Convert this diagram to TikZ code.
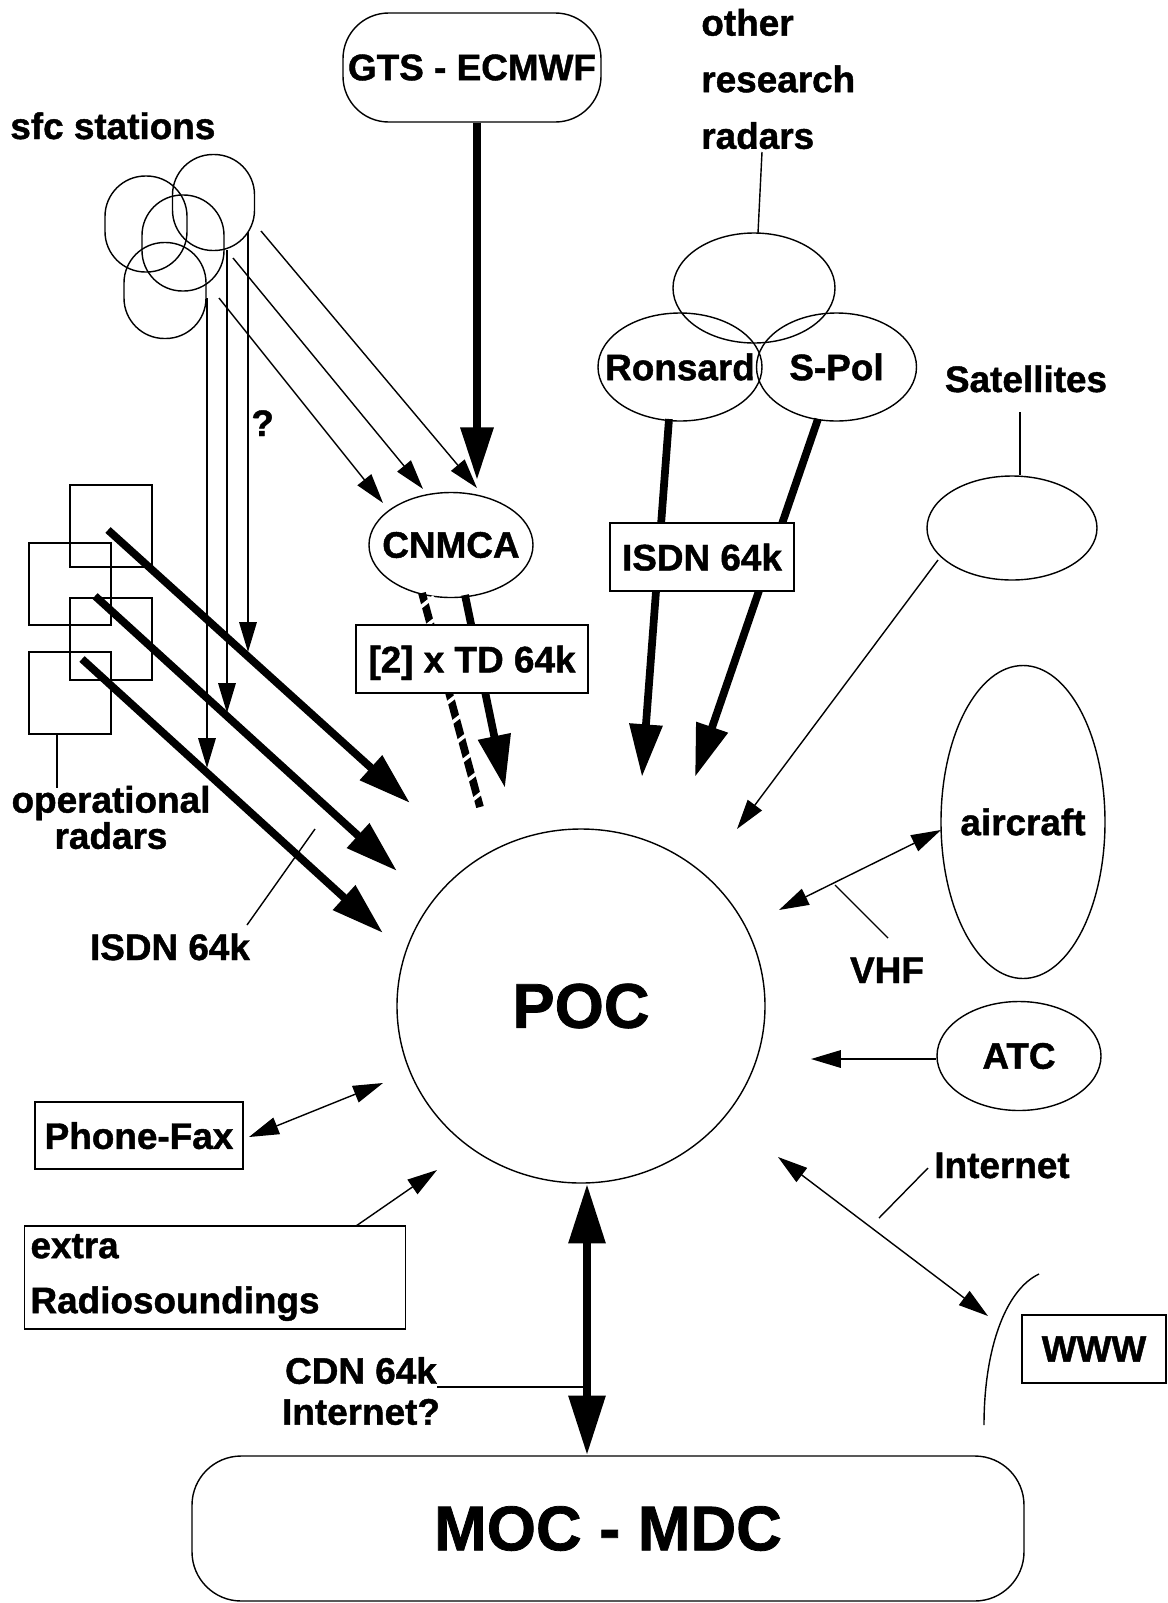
\documentclass[tikz,border=0pt]{standalone}
\usepackage{fontspec}
\setmainfont{Liberation Sans}[BoldFeatures={FakeBold=1.2}]
\usetikzlibrary{arrows.meta,shapes.geometric,calc}
\newdimen\pxu
\pxu=0.02cm
\begin{document}
\begin{tikzpicture}[x=0.02cm,y=-0.02cm,
  thinln/.style={line width=0.8pt},
  tarrow/.style={thinln, arrows={-Triangle[length=17pt,width=10pt]}},
  tdarrow/.style={thinln, arrows={Triangle[length=17pt,width=10pt]-Triangle[length=17pt,width=10pt]}},
  fatln/.style={line width=4.4pt},
  farrow/.style={fatln, arrows={-Triangle[length=30pt,width=18pt]}},
  fdarrow/.style={line width=5pt, arrows={Triangle[length=34pt,width=20pt]-Triangle[length=34pt,width=20pt]}},
  lbl/.style={font=\bfseries\fontsize{21}{25}\selectfont, inner sep=0pt},
  bigfont/.style={font=\bfseries\fontsize{36}{40}\selectfont},
  boxn/.style={draw, thinln, rectangle, fill=white, lbl, text depth=0pt},
  ell/.style={draw, thinln, ellipse, lbl, inner sep=-12pt},
  stn/.style={draw, thinln, rectangle, rounded corners=23pt, minimum width=82*\pxu, minimum height=96*\pxu, inner sep=0pt},
  radar/.style={draw, thinln, rectangle, minimum width=82*\pxu, minimum height=82*\pxu, inner sep=0pt},
]
\useasboundingbox (0,0) rectangle (1167,1603);

% ---------- nodes ----------
\node[lbl, anchor=base west] (sfc) at (10,139) {sfc stations};
\node[stn] (s1) at (146,224) {};
\node[stn] (s2) at (213.5,202.5) {};
\node[stn] (s3) at (183,243) {};
\node[stn] (s4) at (165,290.5) {};
\node[lbl, anchor=base west] (qm) at (251,436) {?};

\node[draw, thinln, rectangle, rounded corners=26pt, lbl, minimum width=258*\pxu, minimum height=109*\pxu] (gts) at (472,67.5) {GTS - ECMWF};

\node[lbl, anchor=west, align=left, font=\bfseries\fontsize{21}{32.2}\selectfont] (orr) at (701,79) {other\\research\\radars};
\node[ell, minimum width=162*\pxu, minimum height=110*\pxu] (oth) at (754,288) {};
\node[ell, minimum width=164*\pxu, minimum height=108*\pxu] (ron) at (680,367) {Ronsard};
\node[ell, minimum width=160*\pxu, minimum height=108*\pxu] (spol) at (836.5,367) {S-Pol};

\node[lbl, anchor=base] (satl) at (1026,392) {Satellites};
\node[ell, minimum width=170*\pxu, minimum height=104*\pxu] (sat) at (1012,528) {};

\node[ell, minimum width=164*\pxu, minimum height=105*\pxu] (cnmca) at (451,545) {CNMCA};
\node[ell, minimum width=164*\pxu, minimum height=313*\pxu] (air) at (1023,822) {aircraft};
\node[ell, minimum width=164*\pxu, minimum height=109*\pxu] (atc) at (1019,1056) {ATC};
\node[ell, bigfont, minimum width=368*\pxu, minimum height=354*\pxu] (poc) at (581,1006) {POC};

\node[radar] (r1) at (111,526) {};
\node[radar] (r2) at (70,584) {};
\node[radar] (r3) at (111,639) {};
\node[radar] (r4) at (70,693) {};
\node[lbl, align=center, font=\bfseries\fontsize{21}{19.5}\selectfont] (opr) at (111,817.5) {operational\\radars};
\node[lbl, anchor=base] (isdnl) at (170,960) {ISDN 64k};

\node[boxn, minimum width=208*\pxu, minimum height=67*\pxu] (pf) at (139,1135.5) {Phone-Fax};
\node[draw, thinln, rectangle, lbl, align=left, text width=369*\pxu, inner xsep=6*\pxu, minimum height=103*\pxu, font=\bfseries\fontsize{21}{31.3}\selectfont] (extra) at (215,1277.5) {extra\\Radiosoundings};
\node[lbl, align=center, font=\bfseries\fontsize{21}{23.3}\selectfont] (cdn) at (361,1391) {CDN 64k\\Internet?};
\node[draw, thinln, rectangle, rounded corners=28pt, bigfont, minimum width=832*\pxu, minimum height=145*\pxu] (moc) at (608,1528.5) {MOC - MDC};

\node[lbl, anchor=base] (inet) at (1002,1178) {Internet};
\node[boxn, minimum width=144*\pxu, minimum height=68*\pxu] (www) at (1094,1349) {WWW};
\node[lbl, anchor=base] (vhf) at (887,983) {VHF};

% ---------- coordinates ----------
\coordinate (v1s) at (207,298);  \coordinate (v1e) at (207,768);
\coordinate (v2s) at (227,250);  \coordinate (v2e) at (227,713);
\coordinate (v3s) at (248,232);  \coordinate (v3e) at (248,652);
\coordinate (d1s) at (219,298);  \coordinate (d1e) at (383,503);
\coordinate (d2s) at (233,258);  \coordinate (d2e) at (423,489);
\coordinate (d3s) at (261,231);  \coordinate (d3e) at (477,488);
\coordinate (gtsend) at (477,480);
\coordinate (t1s) at (108,530);  \coordinate (t1e) at (410,803);
\coordinate (t2s) at (95,596);   \coordinate (t2e) at (397,871);
\coordinate (t3s) at (82,659);   \coordinate (t3e) at (383,933);
\coordinate (oplead) at (57,788);
\coordinate (il1) at (247,925);  \coordinate (il2) at (315,829);
\coordinate (h1) at (422,593);   \coordinate (h2) at (480,807);
\coordinate (c1) at (465,595);   \coordinate (c2) at (505,788);
\coordinate (or1) at (762,152);  \coordinate (or2) at (758,233);
\coordinate (rs) at (669,419);   \coordinate (re) at (642,777);
\coordinate (ss) at (818,419);   \coordinate (se) at (695,777);
\coordinate (sl) at (1020,412);
\coordinate (sas) at (938,560);  \coordinate (sae) at (737,829);
\coordinate (va) at (941,830);   \coordinate (vp) at (779,910);
\coordinate (vl1) at (835,885);  \coordinate (vl2) at (888,938);
\coordinate (atce) at (811,1059);
\coordinate (pfa) at (249,1137); \coordinate (pfb) at (383,1083);
\coordinate (exs) at (356,1226); \coordinate (exe) at (437,1170);
\coordinate (cdnx) at (587,1300);
\coordinate (cdnl) at (437,1387);
\coordinate (ia) at (778,1157);  \coordinate (ib) at (988,1316);
\coordinate (il3) at (928,1168); \coordinate (il4) at (879,1218);
\coordinate (w1) at (1039,1274); \coordinate (w2) at (984,1425);

% ---------- connectors ----------
\draw[farrow] (gts.south -| gtsend) -- (gtsend);

\draw[farrow] (t1s) -- (t1e);
\draw[farrow] (t2s) -- (t2e);
\draw[farrow] (t3s) -- (t3e);

\draw[tarrow] (v1s) -- (v1e);
\draw[tarrow] (v2s) -- (v2e);
\draw[tarrow] (v3s) -- (v3e);
\draw[tarrow] (d1s) -- (d1e);
\draw[tarrow] (d2s) -- (d2e);
\draw[tarrow] (d3s) -- (d3e);

\draw[thinln] (r4.south -| oplead) -- (oplead);
\draw[thinln] (il1) -- (il2);

% hatched line from CNMCA
\draw[fatln] (h1) -- (h2);
\foreach \t in {0.05,0.14,0.23,0.32,0.41,0.50,0.59,0.68,0.77,0.86,0.95}
  \draw[white, line width=2pt] ($(h1)!\t!(h2)+(-9,7)$) -- ($(h1)!\t!(h2)+(9,-7)$);
\draw[farrow] (c1) -- (c2);

\draw[thinln] (or1) -- (or2);
\draw[farrow] (rs) -- (re);
\draw[farrow] (ss) -- (se);

\draw[thinln] (sl) -- (sat.north -| sl);
\draw[tarrow] (sas) -- (sae);

\draw[tdarrow] (va) -- (vp);
\draw[thinln] (vl1) -- (vl2);

\draw[tarrow] (atc.west |- atce) -- (atce);

\draw[tdarrow] (pfa) -- (pfb);
\draw[tarrow] (exs) -- (exe);

\draw[fdarrow] (poc.south -| cdnx) -- (moc.north -| cdnx);
\draw[thinln] (cdnl) -- (cdnl -| cdnx);

\draw[tdarrow] (ia) -- (ib);
\draw[thinln] (il3) -- (il4);
\draw[thinln] (w1) .. controls (1005,1290) and (984,1350) .. (w2);

% boxes on top of lines
\node[boxn, minimum width=184*\pxu, minimum height=68*\pxu] (isdnr) at (702,557) {ISDN 64k};
\node[boxn, minimum width=232*\pxu, minimum height=68*\pxu] (td) at (472,659) {[2] x TD 64k};
\end{tikzpicture}
\end{document}
